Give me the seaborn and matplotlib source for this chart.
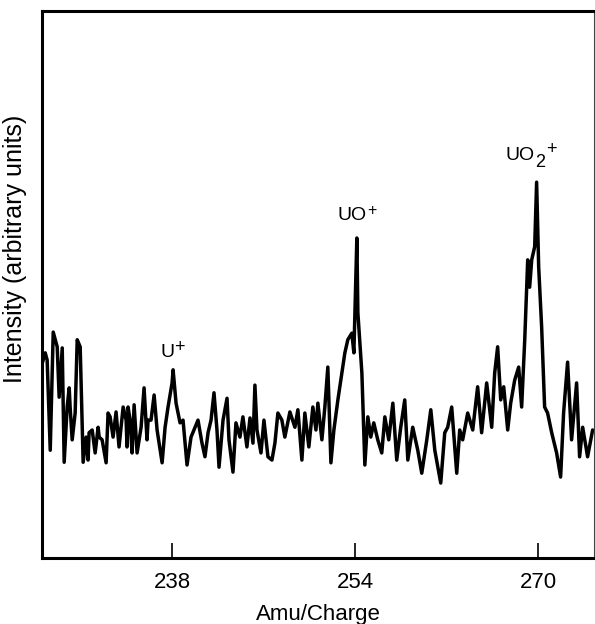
import numpy as np
import pandas as pd
import matplotlib
matplotlib.use("Agg")
import matplotlib.pyplot as plt
import seaborn as sns

# mass spectrum trace (amu/charge vs arbitrary intensity 0-100)
amu = [226.62, 226.88, 227.05, 227.32, 227.58, 227.93, 228.10, 228.37, 228.54, 228.80,
       228.98, 229.06, 229.24, 229.50, 229.68, 229.94, 230.20, 230.46, 230.63, 230.72,
       230.99, 231.25, 231.51, 231.60, 231.86, 232.21, 232.38, 232.56, 232.82, 233.08,
       233.34, 233.70, 233.96, 234.04, 234.13, 234.31, 234.48, 234.66, 234.92, 235.27,
       235.53, 235.79, 235.88, 236.14, 236.41, 236.67, 237.11, 237.37, 237.63, 237.98,
       238.07, 238.33, 238.68, 238.94, 239.29, 239.64, 239.99, 240.25, 240.60, 240.86,
       241.13, 241.39, 241.65, 241.91, 242.09, 242.44, 242.79, 242.96, 243.31, 243.57,
       243.92, 244.18, 244.53, 244.80, 245.06, 245.23, 245.41, 245.76, 246.02, 246.37,
       246.72, 246.98, 247.24, 247.59, 247.85, 248.29, 248.73, 248.99, 249.34, 249.60,
       249.95, 250.30, 250.57, 250.74, 251.09, 251.35, 251.61, 251.88, 252.14, 252.49,
       252.84, 253.10, 253.36, 253.71, 253.89, 254.15, 254.24, 254.59, 254.85, 255.11,
       255.37, 255.63, 255.98, 256.33, 256.60, 256.94, 257.30, 257.64, 257.99, 258.34,
       258.61, 259.04, 259.48, 259.83, 260.27, 260.62, 260.97, 261.49, 261.84, 262.10,
       262.45, 262.89, 263.15, 263.41, 263.85, 264.29, 264.72, 265.07, 265.51, 265.95,
       266.21, 266.47, 266.74, 267.00, 267.35, 267.61, 267.96, 268.31, 268.57, 268.84,
       269.10, 269.27, 269.45, 269.71, 269.88, 270.06, 270.32, 270.58, 270.84, 271.20,
       271.63, 271.98, 272.24, 272.59, 272.94, 273.38, 273.64, 273.91, 274.34, 274.78]
intensity = [35.6, 37.5, 36.2, 19.7, 41.3, 38.6, 29.4, 38.4, 17.5, 27.6,
             31.1, 27.6, 21.6, 26.5, 39.9, 38.6, 17.5, 22.1, 17.9, 22.9,
             23.4, 19.2, 23.9, 22.1, 21.6, 17.4, 26.5, 25.8, 22.1, 26.7,
             20.3, 27.6, 25.2, 20.3, 27.6, 25.2, 19.2, 28.0, 19.2, 23.9,
             31.1, 21.6, 25.2, 25.2, 29.8, 23.4, 17.4, 23.9, 27.6, 32.0,
             34.4, 28.3, 24.7, 25.2, 17.0, 22.1, 23.9, 25.2, 21.0, 18.5,
             22.9, 25.2, 30.2, 23.4, 16.6, 25.2, 29.2, 21.6, 15.7, 24.7,
             22.1, 25.8, 20.3, 25.6, 21.0, 31.6, 23.4, 19.2, 25.2, 18.5,
             17.9, 21.0, 26.5, 25.2, 22.1, 26.7, 23.9, 27.1, 17.9, 26.5,
             20.3, 27.6, 23.4, 28.3, 21.6, 27.6, 34.9, 17.4, 23.4, 28.9,
             33.8, 37.5, 39.9, 41.1, 37.5, 58.5, 44.8, 33.8, 17.0, 25.8,
             22.1, 24.7, 21.6, 19.2, 25.8, 21.6, 28.3, 17.9, 23.9, 28.9,
             17.9, 23.9, 19.7, 15.5, 21.6, 27.1, 19.7, 13.7, 22.9, 23.9,
             27.6, 15.5, 23.4, 21.6, 26.5, 23.4, 31.3, 22.9, 32.0, 23.9,
             33.8, 38.6, 28.9, 31.3, 23.4, 28.3, 32.5, 34.9, 27.6, 39.9,
             54.5, 49.5, 54.5, 56.9, 68.7, 53.2, 42.2, 27.6, 26.5, 22.9,
             19.2, 14.8, 26.5, 35.8, 21.6, 32.0, 18.5, 23.9, 18.5, 23.4]

tick_values = [238, 254, 270]
# peak labels: base text, subscript, superscript, anchor at end of base text
peak_base = ["U", "UO", "UO"]
peak_sub = ["", "", "2"]
peak_sup = ["+", "+", "+"]
peak_amu = [238.15, 255.02, 269.71]
peak_text_y = [36.7, 61.8, 72.8]

sns.set_style("ticks")
plt.rcParams["font.family"] = ["Liberation Sans", "DejaVu Sans"]
plt.rcParams["text.color"] = "black"

df = pd.DataFrame({"amu": amu, "intensity": intensity})

fig = plt.figure(figsize=(5.95, 6.24), dpi=100)
ax = fig.add_axes([0.0706, 0.1058, 0.9277, 0.8766])
sns.lineplot(data=df, x="amu", y="intensity", color="black", linewidth=2.5,
             ax=ax, legend=False)

ax.set_xlim(226.6, 274.9)
ax.set_ylim(0, 100)
ax.set_xticks(tick_values)
ax.set_xticklabels([str(t) for t in tick_values])
ax.set_yticks([])
ax.tick_params(axis="x", direction="in", length=11, width=1.2, labelsize=16,
               pad=10, colors="black")
ax.set_xlabel("Amu/Charge", fontsize=16, labelpad=8, color="black")
ax.set_ylabel("Intensity (arbitrary units)", fontsize=18, color="black")
ax.yaxis.set_label_coords(-0.028, 0.565)

for name in ["left", "bottom", "top"]:
    ax.spines[name].set_linewidth(2.2)
    ax.spines[name].set_color("black")
ax.spines["right"].set_linewidth(0.8)
ax.spines["right"].set_color("#444444")

for base, sub, sup, x, y in zip(peak_base, peak_sub, peak_sup, peak_amu, peak_text_y):
    ax.text(x, y, base, ha="right", va="baseline", fontsize=14, color="black")
    sup_dx, sup_size = 0.3, 13
    if sub:
        ax.annotate(sub, (x, y), xytext=(0.2, -5), textcoords="offset points",
                    ha="left", va="baseline", fontsize=13, color="black")
        sup_dx = 8.5
    elif base == "UO":
        sup_size = 11.5
    ax.annotate(sup, (x, y), xytext=(sup_dx, 3.8), textcoords="offset points",
                ha="left", va="baseline", fontsize=sup_size, color="black")

fig.savefig("out.png", dpi=100)
